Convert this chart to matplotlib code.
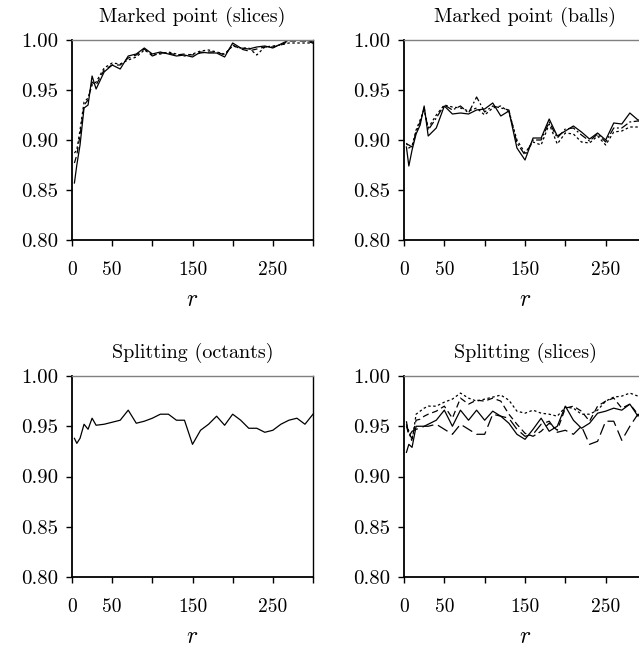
import matplotlib
matplotlib.use("Agg")
import matplotlib.pyplot as plt

plt.rcParams['font.family'] = ['cmr10', 'DejaVu Serif']
plt.rcParams['mathtext.fontset'] = 'cm'
plt.rcParams['axes.formatter.use_mathtext'] = True

# r values (shared by all panels)
r = [3, 6, 10, 15, 20, 25, 30, 40, 50, 60, 70, 80, 90, 100, 110, 120, 130, 140,
     150, 160, 170, 180, 190, 200, 210, 220, 230, 240, 250, 260, 270, 280, 290, 300]

# Marked point (slices)
mp_slices_solid = [0.857, 0.875, 0.895, 0.932, 0.935, 0.964, 0.951, 0.968, 0.975, 0.971, 0.984, 0.986,
                   0.992, 0.986, 0.988, 0.986, 0.984, 0.985, 0.983, 0.988, 0.987, 0.987, 0.983, 0.997,
                   0.992, 0.991, 0.993, 0.994, 0.992, 0.996, 1.000, 1.000, 1.000, 0.998]
mp_slices_dash = [0.877, 0.885, 0.905, 0.935, 0.940, 0.958, 0.955, 0.970, 0.975, 0.975, 0.982, 0.985,
                  0.991, 0.984, 0.987, 0.987, 0.985, 0.986, 0.985, 0.987, 0.988, 0.988, 0.985, 0.995,
                  0.991, 0.989, 0.991, 0.993, 0.993, 0.995, 0.999, 0.999, 0.999, 0.997]
mp_slices_dot = [0.887, 0.890, 0.910, 0.938, 0.942, 0.955, 0.958, 0.972, 0.977, 0.976, 0.980, 0.983,
                 0.990, 0.985, 0.986, 0.988, 0.986, 0.984, 0.986, 0.989, 0.990, 0.988, 0.986, 0.994,
                 0.992, 0.992, 0.985, 0.993, 0.994, 0.995, 0.997, 0.997, 0.997, 0.997]

# Marked point (balls)
mp_balls_solid = [0.893, 0.874, 0.890, 0.906, 0.915, 0.934, 0.904, 0.912, 0.934, 0.926, 0.927, 0.926,
                  0.930, 0.931, 0.937, 0.924, 0.929, 0.892, 0.880, 0.902, 0.902, 0.921, 0.904, 0.909,
                  0.914, 0.908, 0.901, 0.907, 0.900, 0.917, 0.916, 0.927, 0.920, 0.920]
mp_balls_dashdot = [0.896, 0.895, 0.893, 0.908, 0.918, 0.932, 0.910, 0.922, 0.935, 0.930, 0.934, 0.927,
                    0.943, 0.928, 0.934, 0.932, 0.930, 0.897, 0.885, 0.900, 0.900, 0.918, 0.902, 0.911,
                    0.912, 0.905, 0.899, 0.906, 0.898, 0.912, 0.912, 0.918, 0.919, 0.918]
mp_balls_dot = [0.897, 0.892, 0.894, 0.910, 0.920, 0.930, 0.912, 0.925, 0.935, 0.933, 0.932, 0.929,
                0.932, 0.925, 0.932, 0.934, 0.928, 0.900, 0.887, 0.898, 0.895, 0.916, 0.896, 0.907,
                0.906, 0.898, 0.897, 0.904, 0.895, 0.908, 0.909, 0.913, 0.913, 0.912]

# Splitting (octants)
sp_octants = [0.938, 0.933, 0.938, 0.952, 0.947, 0.958, 0.951, 0.952, 0.954, 0.956, 0.966, 0.953,
              0.955, 0.958, 0.962, 0.962, 0.956, 0.956, 0.932, 0.946, 0.952, 0.960, 0.951, 0.962,
              0.956, 0.948, 0.948, 0.944, 0.946, 0.952, 0.956, 0.958, 0.952, 0.962]

# Splitting (slices)
sp_slices_solid = [0.924, 0.932, 0.929, 0.950, 0.950, 0.950, 0.952, 0.956, 0.966, 0.950, 0.966, 0.956,
                   0.966, 0.956, 0.965, 0.960, 0.953, 0.942, 0.937, 0.947, 0.958, 0.945, 0.950, 0.970,
                   0.956, 0.948, 0.953, 0.963, 0.965, 0.968, 0.966, 0.972, 0.960, 0.968]
sp_slices_long = [0.955, 0.940, 0.945, 0.947, 0.948, 0.950, 0.950, 0.952, 0.947, 0.942, 0.952, 0.947,
                  0.942, 0.942, 0.962, 0.960, 0.958, 0.947, 0.940, 0.942, 0.952, 0.955, 0.944, 0.946,
                  0.942, 0.950, 0.932, 0.935, 0.955, 0.955, 0.936, 0.950, 0.962, 0.958]
sp_slices_mid = [0.950, 0.942, 0.938, 0.956, 0.957, 0.960, 0.962, 0.965, 0.970, 0.958, 0.978, 0.972,
                 0.976, 0.975, 0.978, 0.975, 0.962, 0.952, 0.943, 0.940, 0.945, 0.953, 0.946, 0.968,
                 0.970, 0.965, 0.955, 0.970, 0.975, 0.978, 0.968, 0.972, 0.962, 0.960]
sp_slices_short = [0.952, 0.945, 0.935, 0.962, 0.965, 0.968, 0.970, 0.970, 0.974, 0.977, 0.983, 0.978,
                   0.975, 0.977, 0.979, 0.981, 0.976, 0.965, 0.963, 0.966, 0.963, 0.962, 0.960, 0.969,
                   0.968, 0.962, 0.962, 0.966, 0.975, 0.979, 0.980, 0.983, 0.980, 0.982]

W, H = 639, 648
fig = plt.figure(figsize=(W / 100, H / 100), dpi=100)


def make_ax(x0, x1, y0, y1, title):
    ax = fig.add_axes([x0 / W, 1 - y1 / H, (x1 - x0) / W, (y1 - y0) / H])
    ax.set_xlim(0, 300)
    ax.set_ylim(0.80, 1.00)
    ax.set_xticks([0, 50, 100, 150, 200, 250, 300])
    ax.set_xticklabels(['0', '50', '', '150', '', '250', ''])
    ax.set_yticks([0.80, 0.85, 0.90, 0.95, 1.00])
    ax.set_yticklabels(['0.80', '0.85', '0.90', '0.95', '1.00'])
    ax.tick_params(direction='out', length=4, width=1)
    ax.tick_params(axis='x', pad=11, labelsize=14)
    ax.tick_params(axis='y', pad=6, labelsize=15)
    for s in ['left', 'bottom']:
        ax.spines[s].set_linewidth(1.3)
    ax.spines['right'].set_linewidth(1.0)
    ax.spines['top'].set_color('0.5')
    ax.spines['top'].set_linewidth(1.0)
    ax.set_title(title, fontsize=14.5, pad=13)
    ax.set_xlabel('$r$', fontsize=17, labelpad=7)
    return ax


lw = 0.9

ax = make_ax(72, 313, 40, 240, 'Marked point (slices)')
ax.plot(r, mp_slices_dot, color='black', lw=lw, dashes=(2, 2))
ax.plot(r, mp_slices_dash, color='black', lw=lw, dashes=(5, 3))
ax.plot(r, mp_slices_solid, color='black', lw=lw)

ax = make_ax(404, 646, 40, 240, 'Marked point (balls)')
ax.plot(r, mp_balls_dot, color='black', lw=lw, dashes=(2, 2))
ax.plot(r, mp_balls_dashdot, color='black', lw=lw, dashes=(6, 2, 1.5, 2))
ax.plot(r, mp_balls_solid, color='black', lw=lw)

ax = make_ax(72, 313, 376, 577, 'Splitting (octants)')
ax.plot(r, sp_octants, color='black', lw=lw)

ax = make_ax(404, 646, 376, 577, 'Splitting (slices)')
ax.plot(r, sp_slices_short, color='black', lw=lw, dashes=(2, 2))
ax.plot(r, sp_slices_mid, color='black', lw=lw, dashes=(5, 3))
ax.plot(r, sp_slices_long, color='black', lw=lw, dashes=(9, 4))
ax.plot(r, sp_slices_solid, color='black', lw=lw)

fig.savefig('out.png', dpi=100)
